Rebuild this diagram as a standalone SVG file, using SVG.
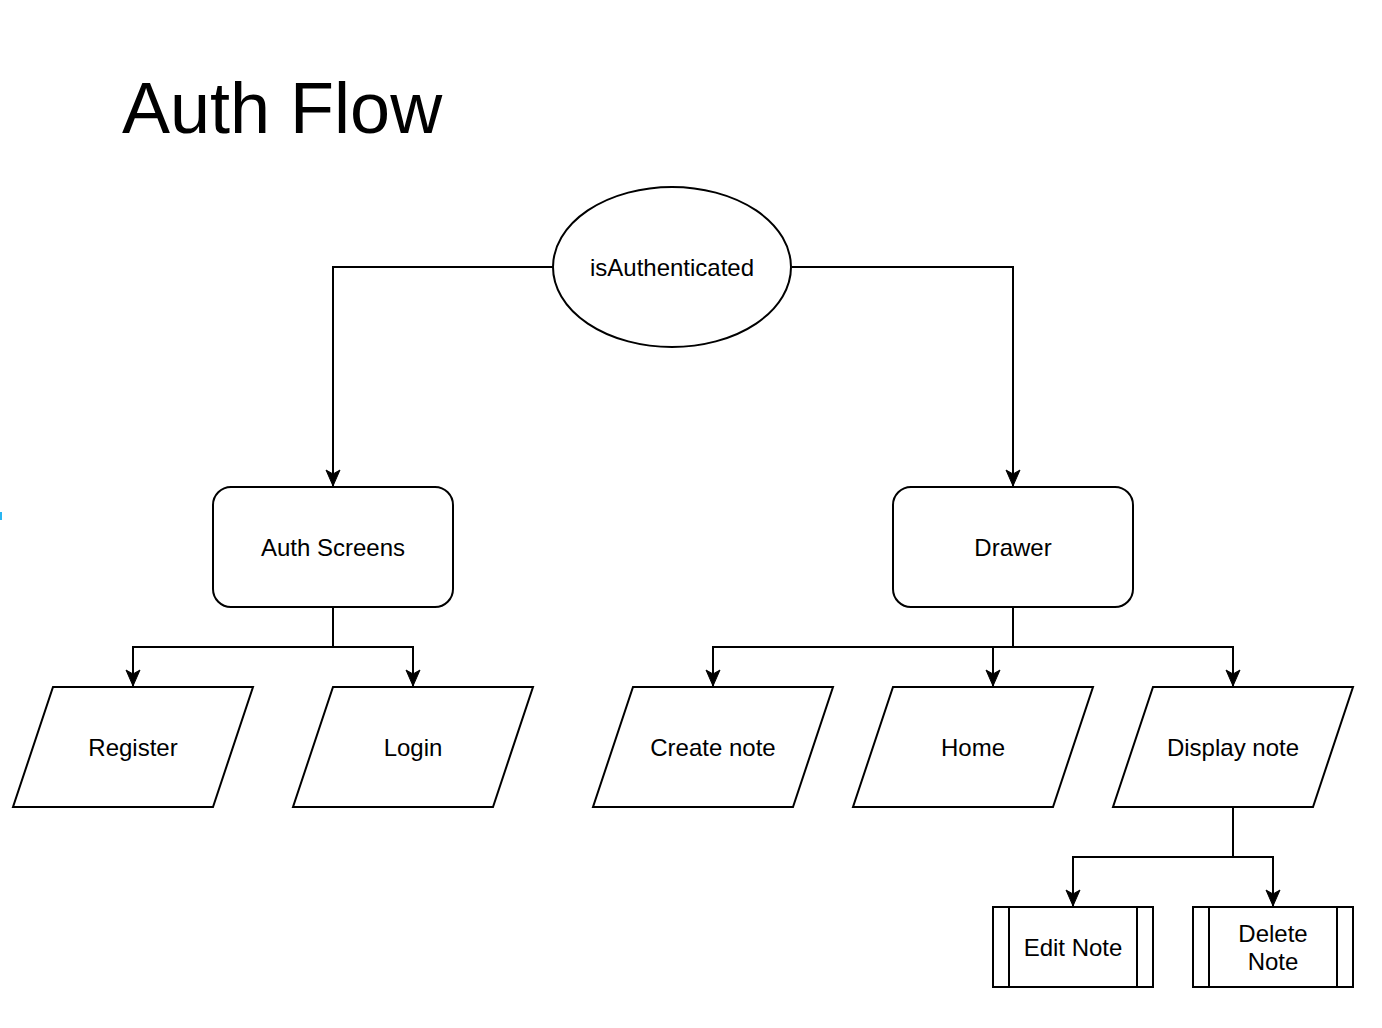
<svg xmlns="http://www.w3.org/2000/svg" width="1382" height="1028" viewBox="0 0 1382 1028">
<style>
.s{fill:#fff;stroke:#000;stroke-width:2}
.t{font-family:"Liberation Sans",Arial,sans-serif;font-size:24px;fill:#000;text-anchor:middle;dominant-baseline:central}
.c{fill:none;stroke:#000;stroke-width:2}
</style>
<defs>
<marker id="a" markerUnits="userSpaceOnUse" markerWidth="20" markerHeight="20" viewBox="0 0 20 20" refX="17" refY="10" orient="auto">
<path d="M1,3 L17,10 L1,17 L5,10 Z" fill="#000" stroke="#000" stroke-width="1"/>
</marker>
</defs>
<rect width="1382" height="1028" fill="#fff"/>
<rect x="0" y="512" width="2" height="8" fill="#29b6f2"/>
<text x="122" y="133" font-family="'Liberation Sans',Arial,sans-serif" font-size="72" fill="#000">Auth Flow</text>
<g id="connectors">
<path class="c" d="M553,267 H333 V486" marker-end="url(#a)"/>
<path class="c" d="M792,267 H1013 V486" marker-end="url(#a)"/>
<path class="c" d="M333,607 V647 H133 V686" marker-end="url(#a)"/>
<path class="c" d="M333,647 H413 V686" marker-end="url(#a)"/>
<path class="c" d="M1013,607 V647 H713 V686" marker-end="url(#a)"/>
<path class="c" d="M1013,647 H993 V686" marker-end="url(#a)"/>
<path class="c" d="M1013,647 H1233 V686" marker-end="url(#a)"/>
<path class="c" d="M1233,807 V857 H1073 V906" marker-end="url(#a)"/>
<path class="c" d="M1233,857 H1273 V906" marker-end="url(#a)"/>
</g>
<g id="isAuthenticated"><ellipse class="s" cx="672" cy="267" rx="119" ry="80"/><text class="t" x="672" y="267">isAuthenticated</text></g>
<g id="authScreens"><rect class="s" x="213" y="487" width="240" height="120" rx="18"/><text class="t" x="333" y="547">Auth Screens</text></g>
<g id="drawer"><rect class="s" x="893" y="487" width="240" height="120" rx="18"/><text class="t" x="1013" y="547">Drawer</text></g>
<g id="register"><polygon class="s" points="53,687 253,687 213,807 13,807"/><text class="t" x="133" y="747">Register</text></g>
<g id="login"><polygon class="s" points="333,687 533,687 493,807 293,807"/><text class="t" x="413" y="747">Login</text></g>
<g id="createNote"><polygon class="s" points="633,687 833,687 793,807 593,807"/><text class="t" x="713" y="747">Create note</text></g>
<g id="home"><polygon class="s" points="893,687 1093,687 1053,807 853,807"/><text class="t" x="973" y="747">Home</text></g>
<g id="displayNote"><polygon class="s" points="1153,687 1353,687 1313,807 1113,807"/><text class="t" x="1233" y="747">Display note</text></g>
<g id="editNote"><rect class="s" x="993" y="907" width="160" height="80"/><path class="c" d="M1009,907 V987 M1137,907 V987"/><text class="t" x="1073" y="947">Edit Note</text></g>
<g id="deleteNote"><rect class="s" x="1193" y="907" width="160" height="80"/><path class="c" d="M1209,907 V987 M1337,907 V987"/><text class="t" x="1273" y="933">Delete</text><text class="t" x="1273" y="961">Note</text></g>
</svg>
